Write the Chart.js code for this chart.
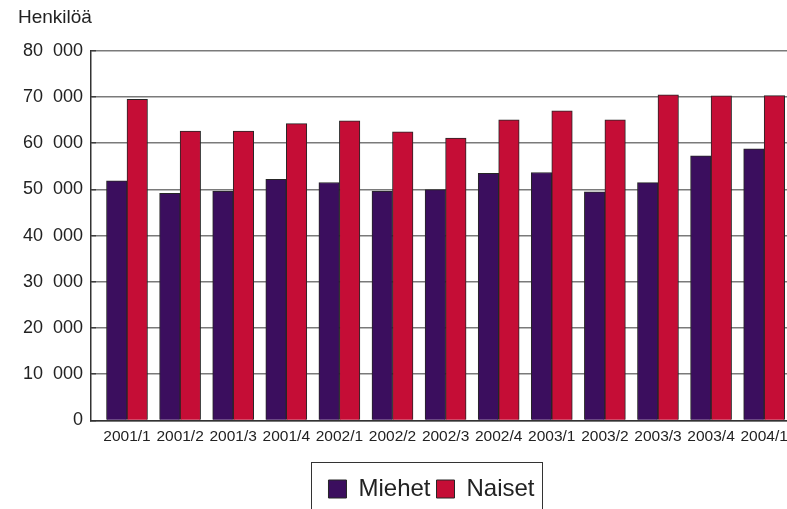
<!DOCTYPE html>
<html>
<head>
<meta charset="utf-8">
<script src="https://cdn.jsdelivr.net/npm/chart.js@4/dist/chart.umd.min.js"></script>
<style>
  html, body { margin: 0; padding: 0; background: #fff; overflow: hidden; }
  #wrap { width: 787px; height: 509px; position: relative; }
</style>
</head>
<body>
<div id="wrap"><canvas id="c"></canvas></div>
<script>
// ---- data ----
const categories = ['2001/1','2001/2','2001/3','2001/4','2002/1','2002/2','2002/3','2002/4','2003/1','2003/2','2003/3','2003/4','2004/1'];
const miehet = [51850, 49150, 49650, 52200, 51500, 49650, 49950, 53500, 53650, 49500, 51450, 57250, 58800];
const naiset = [69500, 62600, 62600, 64250, 64850, 62450, 61100, 65050, 67000, 65050, 70450, 70250, 70300];
const seriesNames = ['Miehet', 'Naiset'];
const yTickValues = [0, 10000, 20000, 30000, 40000, 50000, 60000, 70000, 80000];
const yTitle = 'Henkilöä';

const FONT = '"Liberation Sans", Arial, Helvetica, sans-serif';
const TEXT = '#222';

function fmt(v) {
  const s = String(v);
  return s.length > 3 ? s.slice(0, s.length - 3) + '  ' + s.slice(-3) : s;
}

const legendBox = {
  id: 'legendBox',
  beforeInit(chart) {
    const lg = chart.legend;
    if (lg) {
      const orig = lg.fit;
      lg.fit = function () { orig.call(this); this.height -= 2; };
    }
  },
  afterLayout(chart) {
    const lg = chart.legend;
    if (lg) { lg.left += 29; lg.right += 29; }
  },
  afterDraw(chart) {
    const boxes = chart.legend && chart.legend.legendHitBoxes;
    if (!boxes || !boxes.length) return;
    let l = Infinity, r = -Infinity, t = Infinity;
    boxes.forEach(b => { l = Math.min(l, b.left); r = Math.max(r, b.left + b.width); t = Math.min(t, b.top); });
    const ctx = chart.ctx;
    ctx.save();
    ctx.strokeStyle = '#333';
    ctx.lineWidth = 1;
    ctx.strokeRect(Math.round(l - 17) + 0.5, Math.round(t - 15) + 0.5, Math.round(r - l + 25), chart.height);
    ctx.restore();
  }
};

new Chart(document.getElementById('c'), {
  type: 'bar',
  data: {
    datasets: [
      {
        label: seriesNames[0],
        data: miehet.map((v, i) => ({ x: i, y: v })),
        backgroundColor: '#3b0e5e',
        borderColor: '#262626',
        borderWidth: 1
      },
      {
        label: seriesNames[1],
        data: naiset.map((v, i) => ({ x: i, y: v })),
        backgroundColor: '#c50d36',
        borderColor: '#262626',
        borderWidth: 1
      }
    ]
  },
  options: {
    responsive: true,
    maintainAspectRatio: false,
    animation: false,
    barThickness: 20.5,
    layout: { padding: { left: 18, right: 0, top: 0, bottom: 0 } },
    plugins: {
      tooltip: { enabled: false },
      title: {
        display: true,
        text: yTitle,
        align: 'start',
        color: TEXT,
        font: { family: FONT, size: 19, weight: 'normal' },
        padding: { top: 6, bottom: 22 }
      },
      legend: {
        display: true,
        position: 'bottom',
        title: {
          display: true,
          text: ' ',
          font: { family: FONT, size: 15 },
          padding: 0
        },
        labels: {
          color: TEXT,
          font: { family: FONT, size: 24 },
          boxWidth: 18,
          boxHeight: 18,
          padding: 6
        }
      }
    },
    scales: {
      x: {
        type: 'linear',
        offset: false,
        min: -0.678,
        max: 12.43,
        afterFit: (s) => { s.paddingLeft = 0; s.paddingRight = 0; },
        grid: { display: false, drawTicks: false, offset: false },
        border: { display: true, color: '#333', width: 1.5 },
        ticks: {
          stepSize: 1,
          includeBounds: false,
          autoSkip: false,
          maxRotation: 0,
          minRotation: 0,
          padding: 7,
          color: TEXT,
          font: { family: FONT, size: 15.5 },
          callback: (v) => Number.isInteger(v) && categories[v] !== undefined ? categories[v] : null
        }
      },
      y: {
        min: 0,
        max: 80000,
        afterFit: (s) => { s.width = 73; },
        afterBuildTicks: (s) => {
          const t = [];
          for (let i = 0; i < yTickValues.length; i++) {
            t.push({ value: yTickValues[i] });
            if (i < yTickValues.length - 1) t.push({ value: (yTickValues[i] + yTickValues[i + 1]) / 2 });
          }
          s.ticks = t;
        },
        grid: {
          drawTicks: true,
          tickLength: -5,
          color: (c) => (c.tick && c.tick.value % 10000 === 0) ? '#7a7a7a' : 'rgba(0,0,0,0)',
          tickColor: '#333',
          lineWidth: 1.5,
          tickWidth: 1.2
        },
        border: { display: true, color: '#333', width: 1.5 },
        ticks: {
          padding: 13,
          color: TEXT,
          font: { family: FONT, size: 18 },
          callback: (v) => yTickValues.includes(v) ? fmt(v) : ''
        }
      }
    }
  },
  plugins: [legendBox]
});
</script>
</body>
</html>
